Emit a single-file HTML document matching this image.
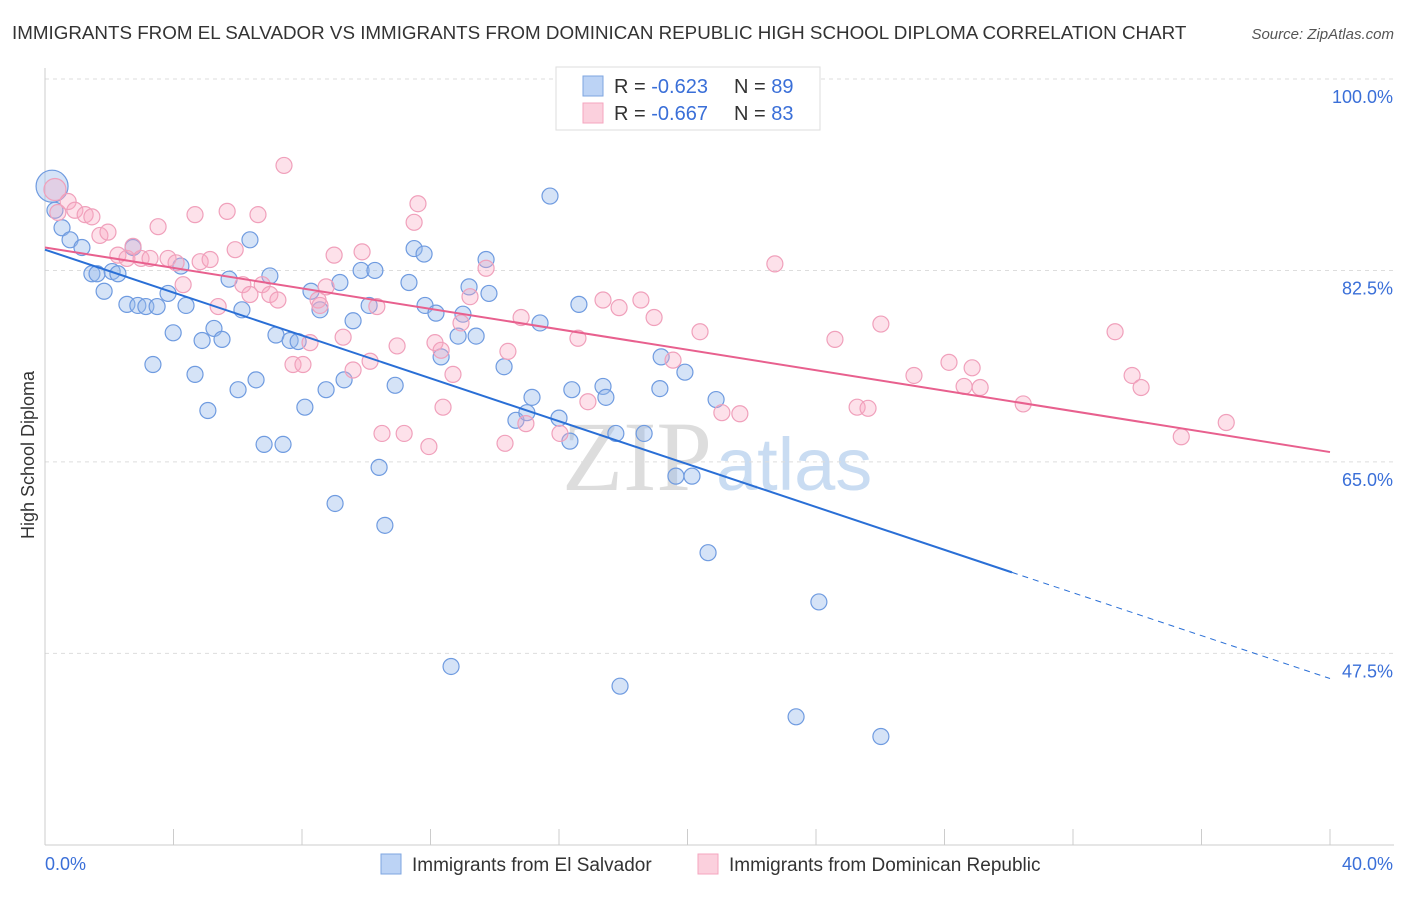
<!DOCTYPE html>
<html><head><meta charset="utf-8"><style>
body{margin:0;background:#fff;font-family:"Liberation Sans",sans-serif;}
</style></head><body>
<svg id="c" width="1406" height="892" xmlns="http://www.w3.org/2000/svg">
<text x="12" y="39" font-size="18.8" fill="#333">IMMIGRANTS FROM EL SALVADOR VS IMMIGRANTS FROM DOMINICAN REPUBLIC HIGH SCHOOL DIPLOMA CORRELATION CHART</text>
<text x="1394" y="39" font-size="15" fill="#555" font-style="italic" text-anchor="end">Source: ZipAtlas.com</text>
<text x="712" y="490" font-size="100" fill="#ddd" text-anchor="end" font-family="Liberation Serif">ZIP</text>
<text x="716" y="490" font-size="74" fill="#c9dcf2">atlas</text>
<g id="grid"></g><g id="axes"></g><g id="pts"></g><g id="lines"></g>
<text x="34" y="455" font-size="18" fill="#333" text-anchor="middle" transform="rotate(-90 34 455)">High School Diploma</text>
<g>
<rect x="556" y="67" width="264" height="63" fill="#fff" stroke="#ddd"/>
<rect x="583" y="76" width="20" height="20" fill="#bcd3f5" stroke="#7ea6e0"/>
<rect x="583" y="103" width="20" height="20" fill="#fbd0dd" stroke="#f4a6bf"/>
<text x="614" y="93" font-size="20" fill="#333">R = <tspan fill="#3a6fd8">-0.623</tspan></text>
<text x="734" y="93" font-size="20" fill="#333">N = <tspan fill="#3a6fd8">89</tspan></text>
<text x="614" y="120" font-size="20" fill="#333">R = <tspan fill="#3a6fd8">-0.667</tspan></text>
<text x="734" y="120" font-size="20" fill="#333">N = <tspan fill="#3a6fd8">83</tspan></text>
</g>
<g>
<rect x="381" y="854" width="20" height="20" fill="#bcd3f5" stroke="#7ea6e0"/>
<text x="412" y="871" font-size="19" fill="#333">Immigrants from El Salvador</text>
<rect x="698" y="854" width="20" height="20" fill="#fbd0dd" stroke="#f4a6bf"/>
<text x="729" y="871" font-size="19" fill="#333">Immigrants from Dominican Republic</text>
</g>
</svg>
<script>
const blueX=[0.22,0.31,0.53,0.78,1.15,1.46,1.62,2.09,2.27,1.84,2.55,2.89,3.14,3.49,3.83,3.99,4.23,2.74,4.39,3.36,4.67,4.89,5.07,5.26,5.51,5.73,6.01,6.13,6.38,6.57,6.82,7.00,7.19,7.41,7.63,7.88,8.09,8.28,8.56,8.75,9.03,9.18,9.31,9.59,9.84,10.09,10.27,10.40,10.58,10.90,11.33,11.49,11.80,11.83,12.17,12.33,12.64,12.86,13.01,13.20,13.42,13.73,13.82,14.29,14.66,15.00,15.16,15.41,16.00,16.34,16.40,16.62,17.37,17.46,17.77,17.90,18.65,19.14,19.18,19.64,19.92,20.14,20.64,20.89,23.38,24.09,26.02,15.72];
const blueY=[90.2,88.0,86.4,85.3,84.6,82.2,82.2,82.4,82.2,80.6,79.4,79.3,79.2,79.2,80.4,76.8,82.9,84.6,79.3,73.9,73.0,76.1,69.7,77.2,76.2,81.7,71.6,78.9,85.3,72.5,66.6,82.0,76.6,66.6,76.1,76.0,70.0,80.6,78.9,71.6,61.2,81.4,72.5,77.9,82.5,79.3,82.5,64.5,59.2,72.0,81.4,84.5,84.0,79.3,78.6,74.6,46.3,76.5,78.5,81.0,76.5,83.5,80.4,73.7,68.8,69.5,70.9,77.7,69.0,66.9,71.6,79.4,71.9,70.9,67.6,44.5,67.6,71.7,74.6,63.7,73.2,63.7,56.7,70.7,41.7,52.2,39.9,89.3];
const pinkX=[0.31,0.40,0.72,0.93,1.25,1.46,1.71,1.96,2.27,2.55,2.74,2.99,3.27,3.52,3.83,4.08,4.30,4.67,4.83,5.14,5.39,5.67,5.92,6.16,6.38,6.63,6.76,7.00,7.25,7.44,7.72,8.03,8.25,8.50,8.56,8.75,9.00,9.28,9.59,9.87,10.12,10.33,10.49,10.96,11.18,11.49,11.61,11.95,12.14,12.33,12.39,12.70,12.95,13.23,13.73,14.32,14.41,14.82,14.97,16.03,16.59,16.90,17.37,17.87,18.55,18.96,19.55,20.39,21.07,21.63,22.72,24.59,25.28,25.62,26.02,27.05,28.14,28.61,28.86,29.11,30.45,33.31,33.84,34.12,35.37,36.77];
const pinkY=[89.9,87.8,88.8,88.0,87.6,87.4,85.7,86.0,83.9,83.6,84.7,83.6,83.6,86.5,83.6,83.2,81.2,87.6,83.3,83.5,79.2,87.9,84.4,81.2,80.3,87.6,81.2,80.3,79.8,92.1,73.9,73.9,75.9,79.8,79.3,81.0,83.9,76.4,73.4,84.2,74.2,79.2,67.6,75.6,67.6,86.9,88.6,66.4,75.9,75.2,70.0,73.0,77.7,80.1,82.7,66.7,75.1,78.2,68.5,67.6,76.3,70.5,79.8,79.1,79.8,78.2,74.3,76.9,69.5,69.4,83.1,76.2,70.0,69.9,77.6,72.9,74.1,71.9,73.6,71.8,70.3,76.9,72.9,71.8,67.3,68.6];
const blueTrend=[84.4,45.2]; const blueSolidEnd=30.1;
const pinkTrend=[84.6,65.9];
const yTicks=[100,82.5,65,47.5];
const yTickLabels=["100.0%","82.5%","65.0%","47.5%"];
const xTicks=[0,4,8,12,16,20,24,28,32,36,40];
const NS="http://www.w3.org/2000/svg";
const X=v=>45+v/40*1285, Y=v=>79+(100-v)*10.94;
function mk(t,a,p){const e=document.createElementNS(NS,t);for(const k in a)e.setAttribute(k,a[k]);p.appendChild(e);return e;}
const grid=document.getElementById('grid'),axes=document.getElementById('axes'),pts=document.getElementById('pts'),lines=document.getElementById('lines');
yTicks.forEach((v,i)=>{
 const l=mk('line',{x1:45,x2:1394,y1:Y(v),y2:Y(v),stroke:'#ddd','stroke-dasharray':'4,4'},grid);
 
 
 const t=mk('text',{x:1393,y:Y(v)+24,'font-size':18,fill:'#3a6fd8','text-anchor':'end'},axes);t.textContent=yTickLabels[i];
 
 
});
const ya=mk('line',{x1:45,x2:45,y1:68,y2:845,stroke:'#ccc'},axes);


const xa=mk('line',{x1:45,x2:1394,y1:845,y2:845,stroke:'#ccc'},axes);


xTicks.forEach(v=>{const l=mk('line',{x1:X(v),x2:X(v),y1:829,y2:845,stroke:'#ccc'},axes);
 
 });
const t0=mk('text',{x:45,y:870,'font-size':18,fill:'#3a6fd8'},axes);t0.textContent='0.0%';


const t1=mk('text',{x:1393,y:870,'font-size':18,fill:'#3a6fd8','text-anchor':'end'},axes);t1.textContent='40.0%';


blueX.forEach((x,i)=>{const c=mk('circle',{cx:X(x),cy:Y(blueY[i]),r:i==0?16:8,fill:'rgba(150,185,235,0.4)',stroke:'#6f9be0','stroke-width':1.2},pts);
 
 });
pinkX.forEach((x,i)=>{const c=mk('circle',{cx:X(x),cy:Y(pinkY[i]),r:i==0?11:8,fill:'rgba(249,168,196,0.35)',stroke:'#f0a0bb','stroke-width':1.2},pts);
 
 });
const bY=x=>blueTrend[0]+(blueTrend[1]-blueTrend[0])*x/40;
const b1=mk('line',{x1:X(0),y1:Y(bY(0)),x2:X(blueSolidEnd),y2:Y(bY(blueSolidEnd)),stroke:'#2a6fd6','stroke-width':2},lines);


const b2=mk('line',{x1:X(blueSolidEnd),y1:Y(bY(blueSolidEnd)),x2:X(40),y2:Y(bY(40)),stroke:'#2a6fd6','stroke-width':1,'stroke-dasharray':'6,5'},lines);


const p1=mk('line',{x1:X(0),y1:Y(pinkTrend[0]),x2:X(40),y2:Y(pinkTrend[1]),stroke:'#e8608e','stroke-width':2},lines);


</script>
</body></html>
